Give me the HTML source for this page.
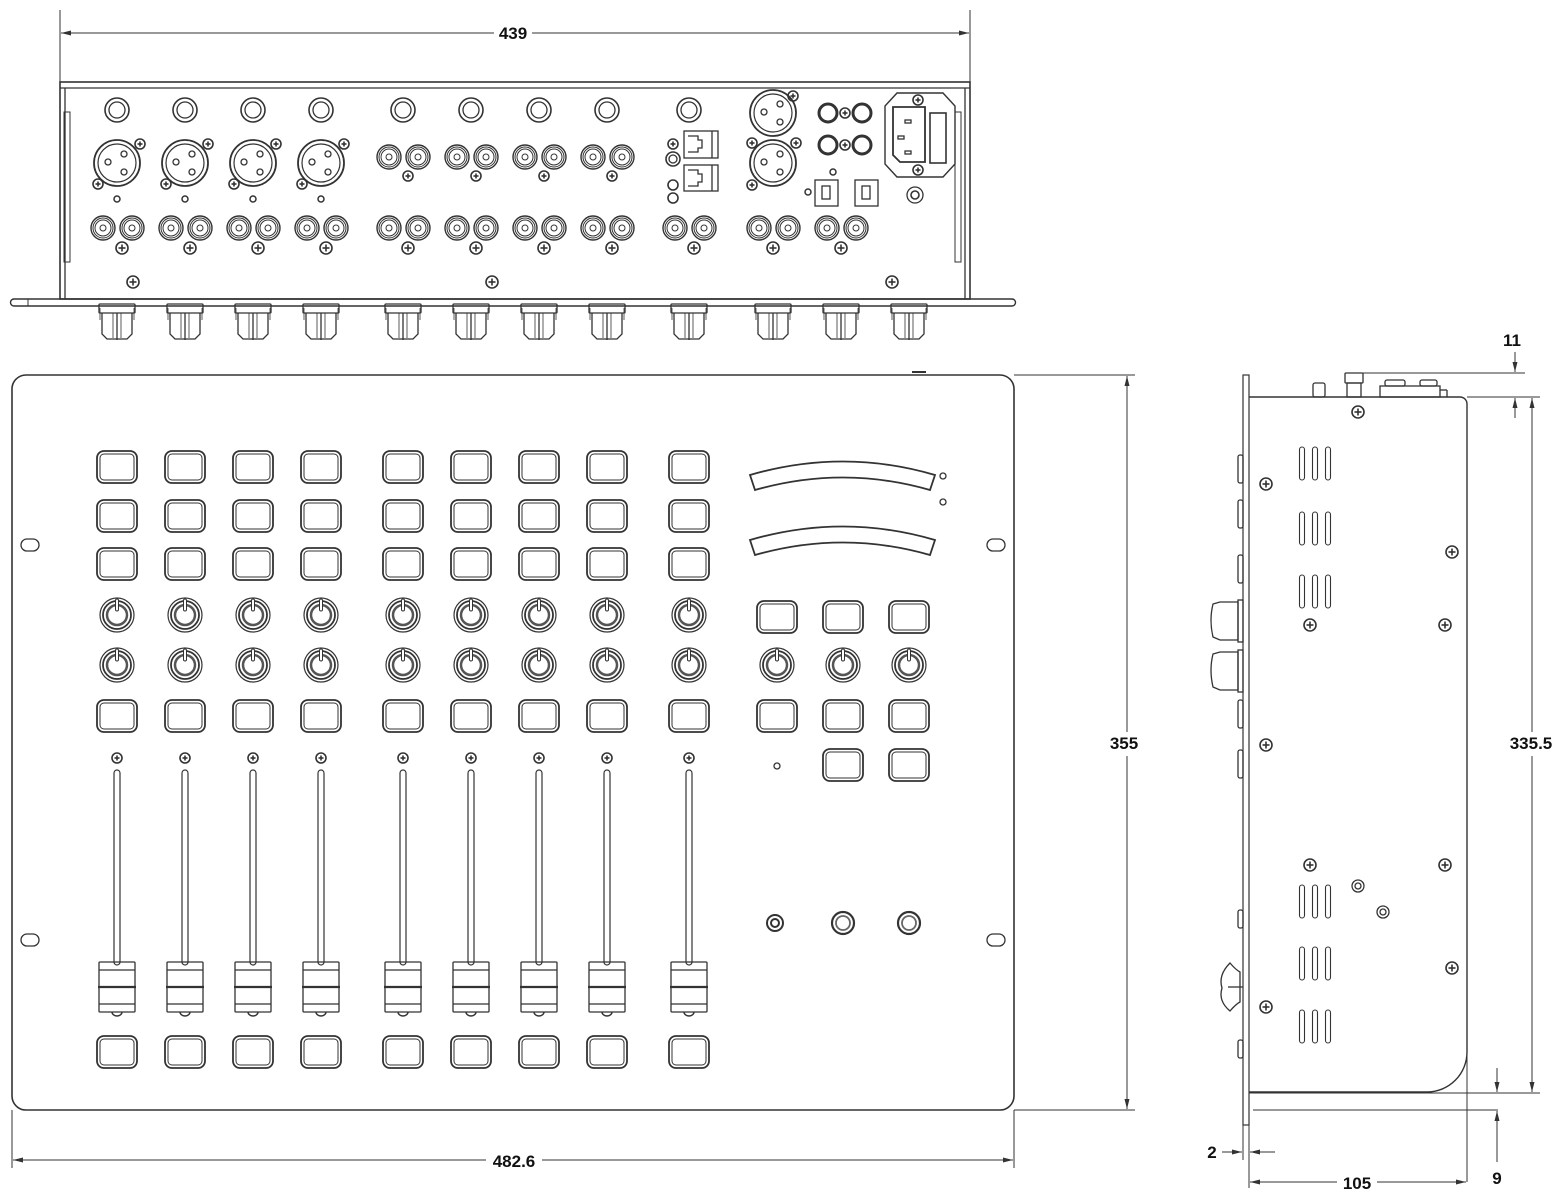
<!DOCTYPE html>
<html><head><meta charset="utf-8"><style>
html,body{margin:0;padding:0;background:#fff;}
svg{display:block;}
text{font-family:"Liberation Sans",Arial,sans-serif;font-weight:bold;font-size:17px;fill:#111;}
</style></head><body>
<svg id="s" width="1564" height="1200" viewBox="0 0 1564 1200" xmlns="http://www.w3.org/2000/svg">
<defs>
<marker id="ar" viewBox="0 0 10 6" refX="10" refY="3" markerWidth="10" markerHeight="6" orient="auto-start-reverse" markerUnits="userSpaceOnUse"><path d="M0,0.5 L10,3 L0,5.5 z" fill="#333"/></marker>
</defs>
<g id="g" fill="none" stroke="#333" stroke-width="1.3"></g>
<!-- texts -->
<rect x="494" y="22" width="38" height="22" fill="#fff"/><text x="513" y="39" text-anchor="middle">439</text>
<rect x="486" y="1150" width="56" height="22" fill="#fff"/><text x="514" y="1167" text-anchor="middle">482.6</text>
<rect x="1108" y="732" width="36" height="24" fill="#fff"/><text x="1124" y="749" text-anchor="middle">355</text>
<rect x="1506" y="732" width="52" height="24" fill="#fff"/><text x="1531" y="749" text-anchor="middle">335.5</text>
<text x="1512" y="346" text-anchor="middle">11</text>
<text x="1212" y="1158" text-anchor="middle">2</text>
<rect x="1337" y="1172" width="40" height="22" fill="#fff"/><text x="1357" y="1189" text-anchor="middle">105</text>
<text x="1497" y="1184" text-anchor="middle">9</text>
</svg>
<script>
var g=document.getElementById('g'),h='';
function L(x1,y1,x2,y2,e){h+='<line x1="'+x1+'" y1="'+y1+'" x2="'+x2+'" y2="'+y2+'" '+(e||'')+'/>';}
function R(x,y,w,hh,r,e){h+='<rect x="'+x+'" y="'+y+'" width="'+w+'" height="'+hh+'" rx="'+(r||0)+'" '+(e||'')+'/>';}
function C(x,y,r,e){h+='<circle cx="'+x+'" cy="'+y+'" r="'+r+'" '+(e||'')+'/>';}
function P(d,e){h+='<path d="'+d+'" '+(e||'')+'/>';}
function screw(x,y,r){r=r||6;C(x,y,r,'stroke-width="1.6"');L(x-r+2.5,y,x+r-2.5,y,'stroke-width="1.6"');L(x,y-r+2.5,x,y+r-2.5,'stroke-width="1.6"');}
function btn(x,y){R(x-20,y-16,40,32,7,'stroke-width="1.8"');R(x-17,y-13,34,26,4,'stroke-width="1"');}
function knob(x,y){C(x,y,17,'stroke-width="1.2"');C(x,y,14,'stroke-width="1.8"');C(x,y,10,'stroke-width="2.5" stroke="#555"');R(x-1.5,y-16,3,12,1.5,'fill="#fff" stroke-width="1"');}
function rca(x,y){C(x,y,12,'stroke-width="1.4"');C(x,y,10,'stroke-width="1"');C(x,y,8,'stroke-width="1"');C(x,y,3,'stroke-width="1"');}
function xlr(x,y){C(x,y,23,'stroke-width="1.8"');C(x,y,19,'stroke-width="1.2"');C(x+7,y-9,3);C(x-9,y-1,3);C(x+7,y+9,3);}
function dim(x1,y1,x2,y2){L(x1,y1,x2,y2,'marker-start="url(#ar)" marker-end="url(#ar)" stroke-width="1"');}
var cols=[117,185,253,321,403,471,539,607,689];
/* ===== TOP (rear) VIEW ===== */
L(60,10,60,82,'stroke-width="1"');L(970,10,970,82,'stroke-width="1"');
dim(61,33,969,33);
R(60,82,910,217,0,'stroke-width="1.6"');L(60,88,970,88);L(65,88,65,299);L(965,88,965,299);
R(64,112,6,150,0,'stroke-width="1"');R(955,112,6,150,0,'stroke-width="1"');
P('M14,299 H1012 a3,3 0 0 1 0,7 H14 a3,3 0 0 1 0,-7 z','stroke-width="1.4"');L(28,299,28,306,'stroke-width="1"');
var tk=[117,185,253,321,403,471,539,607,689,773,841,909];
tk.forEach(function(x){R(x-18,304,36,9,1);P('M'+(x-15)+',313 V334 l5,5 H'+(x+10)+' l5,-5 V313');L(x,313,x,340);L(x-4,313,x-4,338,'stroke-width="0.8"');L(x+4,313,x+4,338,'stroke-width="0.8"');L(x-17,308,x-17,320,'stroke-width="0.8"');L(x+17,308,x+17,320,'stroke-width="0.8"');});
for(var i=0;i<9;i++){var x=cols[i];C(x,110,12,'stroke-width="1.6"');C(x,110,8);
 if(i<4){xlr(x,163);screw(x+23,144,5);screw(x-19,184,5);C(x,199,3,'stroke-width="1.5"');}
 else if(i<8){rca(x-14,157);rca(x+15,157);screw(x+5,176,5);}
 rca(x-14,228);rca(x+15,228);screw(x+5,248,6);}
/* col 9 extras */
R(684,131,34,27);R(684,165,34,26);P('M688,136 h10 v4 h4 v8 h-4 v4 h-10');P('M688,170 h10 v4 h4 v8 h-4 v4 h-10');L(712,131,712,158);L(712,165,712,191);
screw(673,144,5);C(673,159,7,'stroke-width="1.6"');C(673,159,4);C(673,185,5,'stroke-width="1.6"');C(673,198,5,'stroke-width="1.6"');
xlr(773,113);xlr(773,163);screw(793,96,5);screw(796,143,5);screw(752,143,5);screw(752,185,5);
[[828,113],[862,113],[828,145],[862,145]].forEach(function(p){C(p[0],p[1],9,'stroke-width="3"');});
screw(845,113,5);screw(845,145,5);
R(815,180,23,26);R(822,186,8,13);R(855,180,23,26);R(862,186,8,13);C(808,192,3,'stroke-width="1.5"');C(833,172,3,'stroke-width="1.5"');
P('M897,93 H943 L955,106 V164 L943,177 H897 L885,164 V106 z','stroke-width="1.4"');
P('M893,107 H925 V162 H900 L893,155 z','stroke-width="1.8"');R(930,113,16,50,0,'stroke-width="1.6"');
R(905,120,6,3);R(898,136,6,3);R(905,151,6,3);screw(918,100,5);screw(918,170,5);C(915,195,8);C(915,195,4,'stroke-width="1.6"');
rca(759,228);rca(788,228);screw(773,248,6);rca(827,228);rca(856,228);screw(841,248,6);
screw(133,282,6);screw(492,282,6);screw(892,282,6);
/* ===== FRONT VIEW ===== */
R(12,375,1002,735,14,'stroke-width="1.6"');L(912,372,926,372,'stroke-width="2"');
[[30,545],[996,545],[30,940],[996,940]].forEach(function(p){R(p[0]-9,p[1]-6,18,12,6);});
for(i=0;i<9;i++){x=cols[i];btn(x,467);btn(x,516);btn(x,564);knob(x,615);knob(x,665);btn(x,716);screw(x,758,5);
 R(x-3,770,6,195,3,'stroke-width="1.2"');
 R(x-18,962,36,50,1);L(x-18,970,x+18,970);L(x-19,987,x+19,987,'stroke-width="2.2"');L(x-18,1004,x+18,1004);P('M'+(x-5)+',1012 a5,4 0 0 0 10,0','stroke-width="1.4"');
 btn(x,1052);}
function arc(y){P('M750,'+(y+5)+' Q843,'+(y-22)+' 935,'+(y+5)+' L930,'+(y+20)+' Q843,'+(y-5)+' 755,'+(y+20)+' z','stroke-width="1.8"');}
arc(470);arc(535);C(943,476,3);C(943,502,3);
[777,843,909].forEach(function(x){btn(x,617);knob(x,665);btn(x,716);});btn(843,765);btn(909,765);C(777,766,3);
C(775,923,8,'stroke-width="2"');C(775,923,4,'stroke-width="2"');
C(843,923,11,'stroke-width="2.2"');C(843,923,7,'stroke-width="1.8" stroke="#666"');C(909,923,11,'stroke-width="2.2"');C(909,923,7,'stroke-width="1.8" stroke="#666"');
/* front dims */
L(1014,375,1135,375,'stroke-width="1"');L(1014,1110,1135,1110,'stroke-width="1"');dim(1127,376,1127,1109);
L(12,1110,12,1168,'stroke-width="1"');L(1014,1110,1014,1168,'stroke-width="1"');dim(13,1160,1013,1160);
/* ===== SIDE VIEW ===== */
R(1243,375,6,750,0,'stroke-width="1.2"');
P('M1249,397 H1460 a7,7 0 0 1 7,7 V1052 a40,40 0 0 1 -40,40 H1249','stroke-width="1.4"');
L(1249,1093,1540,1093,'stroke-width="1"');L(1253,1110,1498,1110,'stroke-width="1"');L(1467,1050,1467,1182,'stroke-width="1"');
/* top parts */
R(1313,383,12,14,2);R(1345,373,18,10,1);R(1347,383,14,14);R(1380,386,60,11);R(1385,380,20,6,2);R(1420,380,17,6,2);L(1440,390,1447,390);L(1447,390,1447,397);
/* vents */
[447,512,575,885,947,1010].forEach(function(y){[1302,1315,1328].forEach(function(x){R(x-2.5,y,5,33,2.5,'stroke-width="1.1"');});});
[[1358,412],[1266,484],[1452,552],[1310,625],[1445,625],[1266,745],[1310,865],[1445,865],[1452,968],[1266,1007]].forEach(function(p){screw(p[0],p[1],6);});
C(1358,886,6);C(1358,886,3);C(1383,912,6);C(1383,912,3);
/* left side protrusions */
[[455,40],[500,40],[555,40],[700,40],[750,40],[910,30],[1040,30]].forEach(function(p){R(1238,p[1]?p[0]:0,5,p[1]-12,2);});
P('M1213,604 L1220,602 H1238 V640 H1220 L1213,637 Q1209,620 1213,604 z');R(1238,600,5,42);
P('M1213,654 L1220,652 H1238 V690 H1220 L1213,687 Q1209,670 1213,654 z');R(1238,650,5,42);
P('M1230,963 Q1236,970 1240,972 V1002 Q1236,1004 1230,1011 Q1218,1001 1222,988 Q1218,975 1230,963 z');L(1228,987,1243,987);
/* side dims */
L(1360,373,1525,373,'stroke-width="1"');L(1467,397,1540,397,'stroke-width="1"');
L(1515,352,1515,372,'marker-end="url(#ar)" stroke-width="1"');L(1515,418,1515,398,'marker-end="url(#ar)" stroke-width="1"');
dim(1532,398,1532,1092);
L(1497,1068,1497,1092,'marker-end="url(#ar)" stroke-width="1"');L(1497,1162,1497,1111,'marker-end="url(#ar)" stroke-width="1"');
L(1243,1125,1243,1160,'stroke-width="1"');L(1249,1110,1249,1188,'stroke-width="1"');
L(1222,1152,1242,1152,'marker-end="url(#ar)" stroke-width="1"');L(1275,1152,1250,1152,'marker-end="url(#ar)" stroke-width="1"');
dim(1250,1182,1466,1182);
g.innerHTML=h;
</script>
</body></html>
